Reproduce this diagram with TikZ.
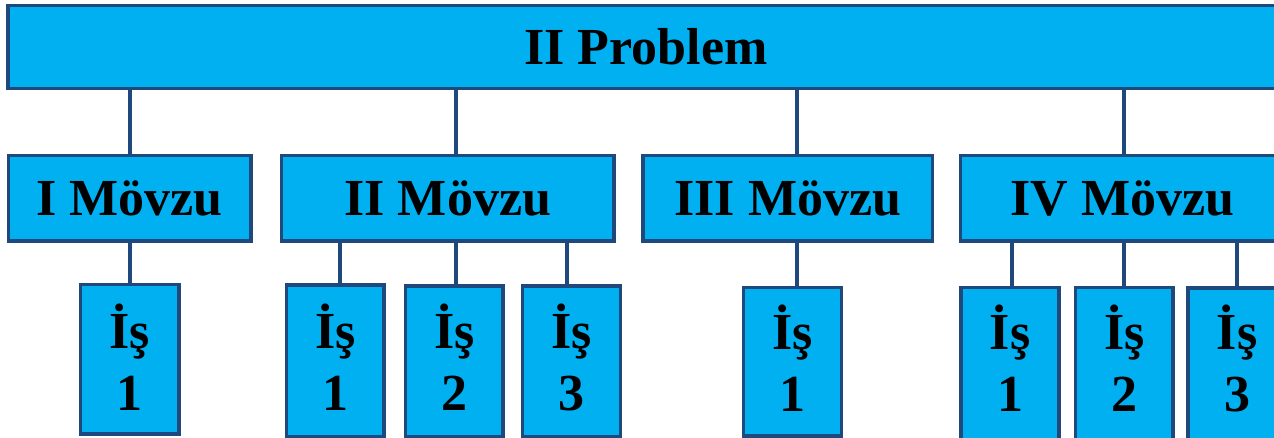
\documentclass[tikz,border=0pt]{standalone}
\usepackage{fontspec}
\setmainfont{Liberation Serif}
\definecolor{boxfill}{HTML}{00B0F0}
\definecolor{boxline}{HTML}{1F497D}
\begin{document}
\begin{tikzpicture}[x=1pt,y=-1pt,
  box/.style={draw=boxline, fill=boxfill, line width=3.5pt, rectangle, inner sep=0pt,
    font=\fontsize{52}{62}\selectfont\bfseries, text=black, align=center},
  worklabel/.style={inner sep=0pt, font=\fontsize{52}{62}\selectfont\bfseries, text=black, align=center},
  link/.style={draw=boxline, line width=3.5pt}]
\useasboundingbox (0,0) rectangle (1274,438);
\clip (0,0) rectangle (1274,438);
% top
\node[box, minimum width=1276pt, minimum height=83pt] (top) at (646,47) {II Problem};
% topics
\node[box, minimum width=242.5pt, minimum height=85.5pt] (m1) at (129.75,198.25) {I Mövzu};
\node[box, minimum width=332.5pt, minimum height=85.5pt] (m2) at (447.75,198.25) {II Mövzu};
\node[box, minimum width=289.5pt, minimum height=85.5pt] (m3) at (787.75,198.25) {III Mövzu};
\node[box, minimum width=323.5pt, minimum height=85.5pt] (m4) at (1122.25,198.25) {IV Mövzu};
% works (boxes)
\node[box, minimum width=98.5pt, minimum height=149.5pt] (w11) at (129.75,359.25) {};
\node[box, minimum width=97.5pt, minimum height=152pt] (w21) at (335.25,361) {};
\node[box, minimum width=97.5pt, minimum height=151pt] (w22) at (454.25,361.5) {};
\node[box, minimum width=98pt, minimum height=151pt] (w23) at (571.5,361.5) {};
\node[box, minimum width=98pt, minimum height=148.5pt] (w31) at (792.5,361.75) {};
\node[box, minimum width=98pt, minimum height=160pt] (w41) at (1010,367.5) {};
\node[box, minimum width=97.5pt, minimum height=160pt] (w42) at (1124.25,367.5) {};
\node[box, minimum width=98pt, minimum height=160pt] (w43) at (1237,368) {};
% works (labels)
\node[worklabel] (t11) at (w11.center |- 0,357) {İş\\1};
\node[worklabel] (t21) at (w21.center |- 0,357) {İş\\1};
\node[worklabel] (t22) at (w22.center |- 0,357) {İş\\2};
\node[worklabel] (t23) at (w23.center |- 0,357) {İş\\3};
\node[worklabel] (t31) at (w31.center |- 0,358) {İş\\1};
\node[worklabel] (t41) at (w41.center |- 0,358) {İş\\1};
\node[worklabel] (t42) at (w42.center |- 0,358) {İş\\2};
\node[worklabel] (t43) at (w43.center |- 0,358) {İş\\3};
% connectors top -> topics
\draw[link] (top.south -| 130,0) -- (m1.north -| 130,0);
\draw[link] (top.south -| 456,0) -- (m2.north -| 456,0);
\draw[link] (top.south -| 797,0) -- (m3.north -| 797,0);
\draw[link] (top.south -| 1124,0) -- (m4.north -| 1124,0);
% connectors topics -> works
\draw[link] (m1.south -| 130,0) -- (w11.north -| 130,0);
\draw[link] (m2.south -| 340,0) -- (w21.north -| 340,0);
\draw[link] (m2.south -| 456,0) -- (w22.north -| 456,0);
\draw[link] (m2.south -| 567,0) -- (w23.north -| 567,0);
\draw[link] (m3.south -| 797,0) -- (w31.north -| 797,0);
\draw[link] (m4.south -| 1012,0) -- (w41.north -| 1012,0);
\draw[link] (m4.south -| 1124,0) -- (w42.north -| 1124,0);
\draw[link] (m4.south -| 1237,0) -- (w43.north -| 1237,0);
\end{tikzpicture}
\end{document}
